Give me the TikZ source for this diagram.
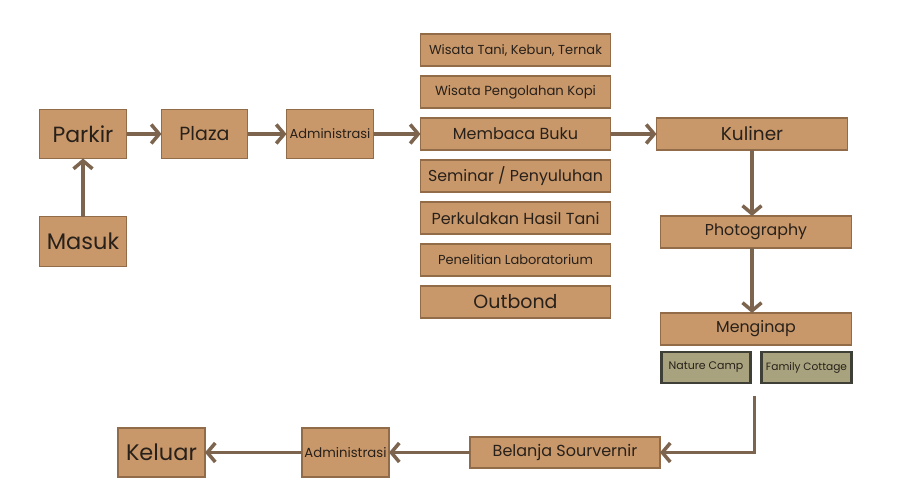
\documentclass[tikz,border=0pt]{standalone}
\usepackage{fontspec}
\setmainfont{Poppins}
\usetikzlibrary{positioning,arrows.meta}

\definecolor{boxfill}{RGB}{200,152,106}
\definecolor{boxline}{RGB}{146,108,72}
\definecolor{campfill}{RGB}{168,163,126}
\definecolor{campline}{RGB}{62,64,56}
\definecolor{arrowc}{RGB}{125,100,78}
\definecolor{ink}{RGB}{40,32,26}

\newcommand{\fs}[1]{\fontsize{#1}{#1}\selectfont}

\tikzset{
  box/.style={draw=boxline,fill=boxfill,line width=1.8pt,inner sep=0pt,outer sep=0pt,
    text=ink,minimum height=32pt},
  bigbox/.style={box,minimum width=87pt,minimum height=49pt},
  widebox/.style={box,minimum width=190pt},
  campbox/.style={draw=campline,fill=campfill,line width=2.2pt,inner sep=0pt,outer sep=0pt,
    text=ink,minimum width=89pt,minimum height=31pt,font=\fs{11}},
  flow/.style={draw=arrowc,line width=3.5pt,-{Straight Barb[length=8pt,width=19pt]}}
}

\begin{document}
\begin{tikzpicture}[x=1pt,y=-1pt,node distance=10pt]
  \useasboundingbox[fill=white] (0,0) rectangle (910,484);

  % entrance row
  \node[bigbox,font=\fs{22}] (parkir) at (83,134)              {Parkir};
  \node[bigbox,font=\fs{22.5},minimum height=50pt] (masuk) [below=58pt of parkir] {Masuk};
  \node[bigbox,font=\fs{19},minimum width=86pt] (plaza) [right=35pt of parkir] {Plaza};
  \node[bigbox,font=\fs{13}] (adminA) [right=39pt of plaza]     {Administrasi};

  % activities
  \node[widebox,font=\fs{16}] (buku)    [right=47pt of adminA]  {Membaca Buku};
  \node[widebox,font=\fs{13.2}] (kopi)  [above=of buku]         {Wisata Pengolahan Kopi};
  \node[widebox,font=\fs{13}] (tani)    [above=of kopi]         {Wisata Tani, Kebun, Ternak};
  \node[widebox,font=\fs{15.8}] (seminar) [below=of buku]       {Seminar / Penyuluhan};
  \node[widebox,font=\fs{16}] (kulak)   [below=of seminar]      {Perkulakan Hasil Tani};
  \node[widebox,font=\fs{13}] (lab)     [below=of kulak]        {Penelitian Laboratorium};
  \node[widebox,font=\fs{19}] (outbond) [below=of lab]          {Outbond};

  % right column
  \node[widebox,font=\fs{18.5},minimum width=191pt] (kuliner) [right=46pt of buku] {Kuliner};
  \node[widebox,font=\fs{15.8},minimum width=191pt] (photo) [below=66pt of kuliner,xshift=4pt] {Photography};
  \node[widebox,font=\fs{15.8},minimum width=191pt] (inap) [below=65pt of photo] {Menginap};
  \node[campbox] (camp)    [below right=7pt and 1pt of inap.south west] {Nature Camp};
  \node[campbox,minimum width=90pt,font=\fs{10.6}] (cottage) [below left=7pt and 0pt of inap.south east] {Family Cottage};

  % exit row
  \node[widebox,font=\fs{16},minimum height=31pt] (belanja) at (565,452.5) {Belanja Sourvernir};
  \node[bigbox,font=\fs{13.2}] (adminB) [left=81pt of belanja] {Administrasi};
  \node[bigbox,font=\fs{22.5}] (keluar) [left=97pt of adminB]  {Keluar};
  \coordinate[below=51pt of inap.south,xshift=-1.5pt] (drop);

  \draw[flow] (masuk) -- (parkir);
  \draw[flow] (parkir) -- (plaza);
  \draw[flow] (plaza) -- (adminA);
  \draw[flow] (adminA) -- (buku);
  \draw[flow] (buku) -- (kuliner);
  \draw[flow] (kuliner.south) -- (kuliner.south |- photo.north);
  \draw[flow] (kuliner.south |- photo.south) -- (kuliner.south |- inap.north);
  \draw[flow] (drop) |- (belanja.east);
  \draw[flow] (belanja) -- (adminB);
  \draw[flow] (adminB) -- (keluar);
\end{tikzpicture}
\end{document}
